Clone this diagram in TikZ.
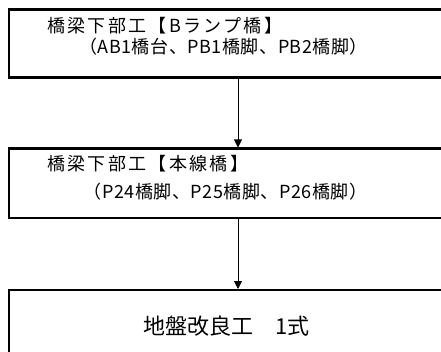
\documentclass[tikz,border=0pt]{standalone}
\usepackage{fontspec}
\setmainfont{Noto Sans CJK JP}
\newfontfamily\wideja[LetterSpace=13]{Noto Sans CJK JP}
\newfontfamily\midja[LetterSpace=3]{Noto Sans CJK JP}
\usetikzlibrary{arrows.meta}
\begin{document}
\begin{tikzpicture}[x=1pt,y=-1pt,
  flowbox/.style={draw,line width=2.4pt,rectangle,inner sep=0pt,anchor=north west},
  headlabel/.style={inner sep=0pt,anchor=west,font=\wideja\fontsize{18pt}{21pt}\selectfont},
  sublabel/.style={inner sep=0pt,font=\midja\fontsize{18pt}{21pt}\selectfont},
  biglabel/.style={inner sep=0pt,font=\fontsize{22pt}{26pt}\selectfont},
  flowarrow/.style={line width=0.9pt,-{Triangle[length=8pt,width=8pt]}}]
\useasboundingbox (0,0) rectangle (441,352);
\clip (0,0) rectangle (441,352);
\node[flowbox,minimum width=480pt,minimum height=68pt] (b1) at (8,8.5) {};
\node[flowbox,minimum width=480pt,minimum height=69.5pt] (b2) at (8,147.5) {};
\node[flowbox,minimum width=480pt,minimum height=100pt] (b3) at (8,289) {};
\node[headlabel] (t1a) at (47,25.5) {橋梁下部工【Bランプ橋】};
\node[sublabel] (t1b) at (223.5,46.7) {（AB1橋台、PB1橋脚、PB2橋脚）};
\node[headlabel] (t2a) at (47,163.5) {橋梁下部工【本線橋】};
\node[sublabel] (t2b) at (225.5,191.5) {（P24橋脚、P25橋脚、P26橋脚）};
\node[biglabel] (t3) at (226.5,326.5) {地盤改良工　1式};
\coordinate (ax) at (238,0);
\draw[flowarrow] (b1.south west -| ax) -- (b2.north west -| ax);
\draw[flowarrow] (b2.south west -| ax) -- (b3.north west -| ax);
\end{tikzpicture}
\end{document}
